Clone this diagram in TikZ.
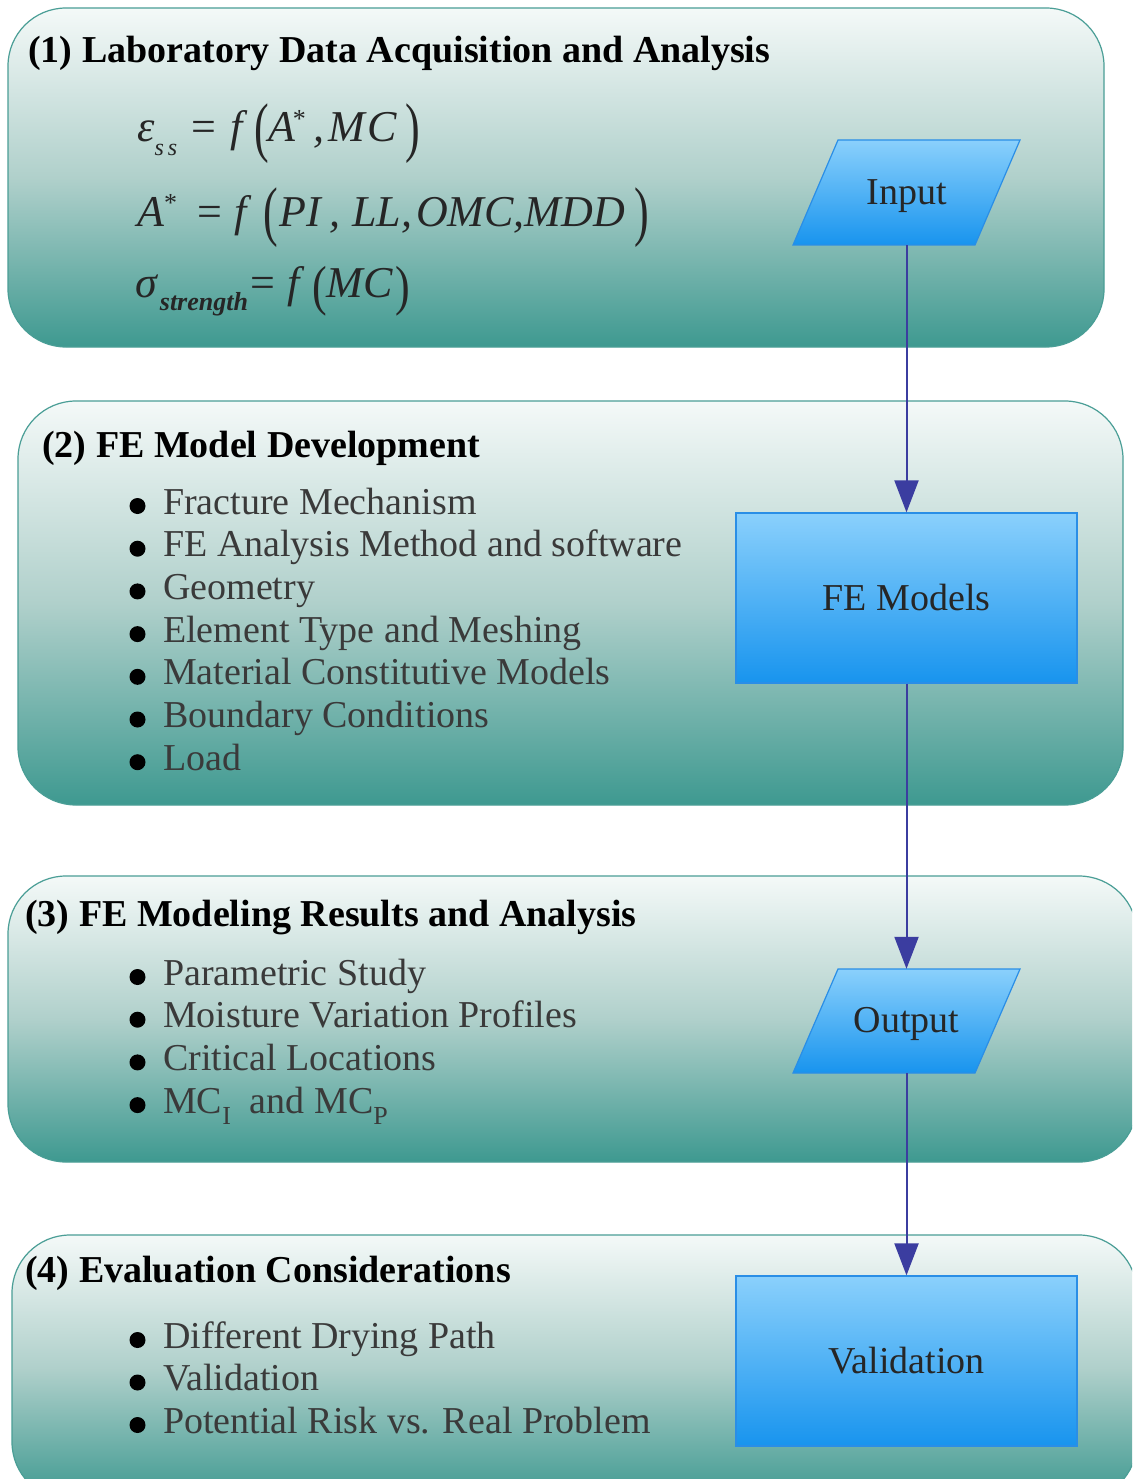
\documentclass[tikz,border=0pt]{standalone}
\usepackage{fontspec}
\usepackage{graphicx}
\setmainfont{Liberation Serif}
\usetikzlibrary{arrows.meta,calc}
\definecolor{tealtop}{HTML}{F4F9F8}
\definecolor{tealmid}{HTML}{B0D0CB}
\definecolor{tealbot}{HTML}{3E9990}
\definecolor{tealedge}{HTML}{4A9E96}
\definecolor{bluetop}{HTML}{8AD0FC}
\definecolor{bluebot}{HTML}{1894EE}
\definecolor{blueedge}{HTML}{2A8EE6}
\definecolor{arrowc}{HTML}{3B3DA0}
\definecolor{itemgray}{HTML}{3A3A3A}
\newcommand{\lpar}[1]{\raisebox{-0.16em}{\scalebox{1}[#1]{\upshape(}}}
\newcommand{\rpar}[1]{\raisebox{-0.16em}{\scalebox{1}[#1]{\upshape)}}}
\newcommand{\st}{\raisebox{0.32em}{\upshape\fontsize{26}{26}\selectfont *}}
\newcommand{\sbs}[2]{\raisebox{-0.3em}{\fontsize{#1}{#1}\selectfont #2}}
\newcommand{\midtext}[1]{\raisebox{-12.5pt}[0pt][0pt]{#1}}
\tikzset{
  stage/.style={draw=tealedge, line width=1.2pt, rounded corners=58pt,
    top color=tealtop, bottom color=tealbot, middle color=tealmid},
  bluefill/.style={draw=blueedge, line width=1.2pt, top color=bluetop, bottom color=bluebot},
  bluerect/.style={bluefill, rectangle, minimum width=341pt, minimum height=170pt, inner sep=0pt,
    font=\fontsize{38}{44}\selectfont, text=black!85},
  bluetext/.style={rectangle, minimum width=182pt, minimum height=105pt, inner sep=0pt,
    font=\fontsize{38}{44}\selectfont, text=black!85},
  ttl/.style={anchor=base west, inner sep=0pt, font=\fontsize{38}{44}\selectfont\bfseries},
  item/.style={anchor=base west, inner sep=0pt, font=\fontsize{38}{44}\selectfont, text=itemgray},
  eqn/.style={anchor=base west, inner sep=0pt, font=\fontsize{44}{50}\selectfont\itshape, text=black!85},
  conn/.style={draw=arrowc, line width=2pt, -{Triangle[width=24pt,length=32pt]}}
}
\begin{document}
\begin{tikzpicture}[x=1pt,y=-1pt]
\useasboundingbox (0,0) rectangle (1132,1479);
\clip (0,0) rectangle (1132,1479);
\fill[white] (0,0) rectangle (1132,1479);
% stage boxes
\path[stage] (8,8) rectangle (1104,347);
\path[stage] (18,401) rectangle (1123,805);
\path[stage] (8,876) rectangle (1137,1162);
\path[stage] (12,1235) rectangle (1137,1500);
% blue shapes
\coordinate (inC) at (906.5,192.5);
\coordinate (outC) at (906.5,1021);
\path[bluefill] ($(inC)+(-113.5,52.5)$) -- ($(inC)+(68.5,52.5)$) -- ($(inC)+(113.5,-52.5)$) -- ($(inC)+(-68.5,-52.5)$) -- cycle;
\path[bluefill] ($(outC)+(-113.5,52)$) -- ($(outC)+(68.5,52)$) -- ($(outC)+(113.5,-52)$) -- ($(outC)+(-68.5,-52)$) -- cycle;
\node[bluetext] (in) at (inC) {\midtext{Input}};
\node[bluetext, minimum height=104pt] (out) at (outC) {\raisebox{-11.5pt}[0pt][0pt]{Output}};
\node[bluerect] (fem) at (906.5,598) {\midtext{FE Models}};
\node[bluerect] (val) at (906.5,1361) {\midtext{Validation}};
% connectors
\draw[conn] (in.south) -- (fem.north);
\draw[conn] (fem.south) -- (out.north);
\draw[conn] (out.south) -- (val.north);
% titles
\node[ttl] (t1) at (28,63) {(1) Laboratory Data Acquisition and Analysis};
\node[ttl] (t2) at (42,457) {(2) FE Model Development};
\node[ttl] (t3) at (25,926) {(3) FE Modeling Results and Analysis};
\node[ttl] (t4) at (25,1282) {(4) Evaluation Considerations};
% equations
\node[eqn] (e1) at (137,142) {ε\sbs{24}{s\hspace{4pt}s}\hspace{14pt}\upshape=\hspace{14pt}\itshape f\hspace{12pt}\lpar{1.5}A\hspace{-3pt}\st\hspace{8pt},\hspace{4pt}M\hspace{2pt}C\hspace{9pt}\rpar{1.5}};
\node[eqn] (e2) at (137,226) {A\st\hspace{20pt}\upshape=\hspace{13pt}\itshape f\hspace{16pt}\lpar{1.5}\hspace{2pt}PI\hspace{8pt},\hspace{12pt}LL,\hspace{4pt}OMC,MDD\hspace{9pt}\rpar{1.5}};
\node[eqn] (e3) at (135,297) {σ\hspace{3pt}\sbs{26}{\bfseries strength}\hspace{2pt}\upshape=\hspace{13pt}\itshape f\hspace{12pt}\lpar{1.25}MC\hspace{3pt}\rpar{1.25}};
% stage 2 items
\node[item] (i21) at (163,514) {Fracture Mechanism};
\node[item] (i22) at (163,556.7) {FE Analysis Method and software};
\node[item] (i23) at (163,599.4) {Geometry};
\node[item] (i24) at (163,642.1) {Element Type and Meshing};
\node[item] (i25) at (163,684.8) {Material Constitutive Models};
\node[item] (i26) at (163,727.5) {Boundary Conditions};
\node[item] (i27) at (163,770.2) {Load};
% stage 3 items
\node[item] (i31) at (163,985) {Parametric Study};
\node[item] (i32) at (163,1027.7) {Moisture Variation Profiles};
\node[item] (i33) at (163,1070.4) {Critical Locations};
\node[item] (i34) at (163,1113.1) {MC\sbs{26}{I}\ \ and MC\sbs{26}{P}};
% stage 4 items
\node[item] (i41) at (163,1348) {Different Drying Path};
\node[item] (i42) at (163,1390.5) {Validation};
\node[item] (i43) at (163,1433) {Potential Risk vs. Real Problem};
% bullets
\foreach \n in {i21,i22,i23,i24,i25,i26,i27,i31,i32,i33,i34,i41,i42,i43}
  \fill[black] ($(\n.base west)+(-25.5,-8)$) circle (8pt);
\end{tikzpicture}
\end{document}
